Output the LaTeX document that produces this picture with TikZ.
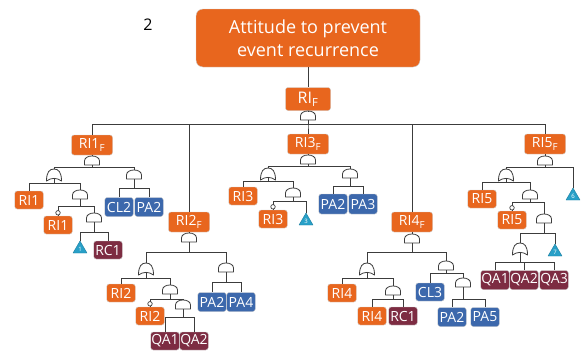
\documentclass[tikz,border=0pt]{standalone}
\usepackage{fontspec}
\setmainfont{Open Sans}
\usepackage{tikz}
\definecolor{evorange}{RGB}{232,102,30}
\definecolor{evblue}{RGB}{60,104,172}
\definecolor{evmaroon}{RGB}{125,44,66}
\definecolor{evteal}{RGB}{40,160,200}
\definecolor{evline}{RGB}{60,60,60}

\tikzset{
  wire/.style={draw=evline, line width=0.9pt},
  gateline/.style={draw=evline, line width=0.8pt, fill=white, line join=round},
  ev/.style={rounded corners=2.5pt, text=white, inner sep=0pt, minimum width=28.5pt,
    minimum height=18pt, font=\fontsize{14}{14}\selectfont, draw=black!20, line width=0.4pt},
  evF/.style={ev, minimum width=41pt, minimum height=20pt},
  ri/.style={fill=evorange},
  pa/.style={fill=evblue},
  qa/.style={fill=evmaroon},
  topbox/.style={ri, rounded corners=7pt, minimum width=224pt, minimum height=58pt,
    text=white, align=center, font=\fontsize{18}{23}\selectfont, draw=black!20, line width=0.4pt},
  dot/.style={circle, draw=evline, fill=white, line width=0.7pt, inner sep=0pt, minimum size=4.5pt},
  pics/andg/.style={code={
    \draw[gateline] (-7.5,9) -- (-7.5,5) .. controls (-7.5,-1.67) and (7.5,-1.67) .. (7.5,5) -- (7.5,9) -- cycle;
    \coordinate (-in) at (0,0);
    \coordinate (-out) at (0,9);
  }},
  pics/org/.style={code={
    \draw[gateline] (-7.5,12) .. controls (-7.5,3) and (-4.5,0) .. (0,0)
      .. controls (4.5,0) and (7.5,3) .. (7.5,12) .. controls (3,8.5) and (-3,8.5) .. cycle;
    \coordinate (-in) at (0,0);
    \coordinate (-out) at (0,9.4);
  }},
  pics/xfer/.style={code={
    \draw[fill=evteal, draw=evteal!80!black, line width=0.4pt, line join=round] (0,0) -- (7,12) -- (-7,12) -- cycle;
    \node[font=\fontsize{6}{6}\selectfont, text=white, inner sep=0pt] (-n) at (0,8.3) {#1};
    \coordinate (-in) at (0,0);
  }}
}

\begin{document}
\begin{tikzpicture}[x=1pt, y=-1pt]
  \useasboundingbox (0,0) rectangle (583,351);

  % top event
  \node[font=\fontsize{16}{16}\selectfont] (num) at (148,25) {2};
  \node[topbox] (top) at (308,38) {Attitude to prevent\\event recurrence};
  \node[evF, ri, minimum width=45pt, minimum height=23pt, font=\fontsize{16}{16}\selectfont] (rif) at (308,99) {RI\textsubscript{F}};
  \pic (g0) at (308,111) {andg};

  % branch RI1
  \node[evF, ri] (ri1f) at (92,145) {RI1\textsubscript{F}};
  \pic (g1) at (92,156) {andg};
  \pic (g11) at (54,169) {org};
  \pic (g12) at (134,170) {andg};
  \node[ev, ri] (ri1a) at (29,200) {RI1};
  \pic (g111) at (80,190) {andg};
  \node[ev, ri] (ri1b) at (58,225) {RI1};
  \pic (g1111) at (94,213) {andg};
  \pic (t1) at (80,241) {xfer=1};
  \node[ev, qa] (rc1a) at (108,250) {RC1};
  \node[ev, pa, minimum height=19pt] (cl2) at (119,207) {CL2};
  \node[ev, pa, minimum height=19pt] (pa2a) at (149,207) {PA2};

  % branch RI2
  \node[evF, ri] (ri2f) at (189,222) {RI2\textsubscript{F}};
  \pic (g2) at (189,233) {andg};
  \pic (g21) at (146,263) {org};
  \pic (g22) at (226,263) {andg};
  \node[ev, ri] (ri2a) at (121,293) {RI2};
  \pic (g211) at (170,285) {andg};
  \node[ev, ri] (ri2b) at (150,316) {RI2};
  \pic (g2111) at (183,300) {andg};
  \node[ev, qa] (qa1a) at (165,341) {QA1};
  \node[ev, qa] (qa2a) at (194,341) {QA2};
  \node[ev, pa, minimum height=19pt] (pa2b) at (212,302) {PA2};
  \node[ev, pa, minimum height=19pt] (pa4) at (241,302) {PA4};

  % branch RI3
  \node[evF, ri] (ri3f) at (308,144) {RI3\textsubscript{F}};
  \pic (g3) at (308,155) {andg};
  \pic (g31) at (268,168) {org};
  \pic (g32) at (350,169) {andg};
  \node[ev, ri] (ri3a) at (243,196) {RI3};
  \pic (g311) at (293,188) {andg};
  \node[ev, ri] (ri3b) at (273,219) {RI3};
  \pic (t3) at (306,213) {xfer=3};
  \node[ev, pa, minimum height=20pt] (pa2c) at (333,204) {PA2};
  \node[ev, pa, minimum height=20pt] (pa3) at (363,204) {PA3};

  % branch RI4
  \node[evF, ri] (ri4f) at (412,222) {RI4\textsubscript{F}};
  \pic (g4) at (412,234) {andg};
  \pic (g41) at (367,263) {org};
  \pic (g42) at (446,261) {andg};
  \node[ev, ri] (ri4a) at (342,293) {RI4};
  \pic (g411) at (393,286) {andg};
  \node[ev, ri] (ri4b) at (372,316) {RI4};
  \node[ev, qa] (rc1b) at (403,316) {RC1};
  \node[ev, pa] (cl3) at (430,292) {CL3};
  \pic (g421) at (463,278) {andg};
  \node[ev, pa, minimum height=19pt] (pa2d) at (452,317) {PA2};
  \node[ev, pa, minimum height=19pt] (pa5) at (485,317) {PA5};

  % branch RI5
  \node[evF, ri] (ri5f) at (545,144) {RI5\textsubscript{F}};
  \pic (g5) at (545,156) {andg};
  \pic (g51) at (506,169) {org};
  \pic (t6) at (573,188) {xfer=6};
  \node[ev, ri] (ri5a) at (482,199) {RI5};
  \pic (g511) at (530,190) {andg};
  \node[ev, ri] (ri5b) at (512,220) {RI5};
  \pic (g5111) at (544,214) {andg};
  \pic (g51111) at (520,243) {org};
  \pic (t7) at (555,244) {xfer=7};
  \node[ev, qa, minimum height=19pt] (qa1b) at (495,280) {QA1};
  \node[ev, qa, minimum height=19pt] (qa2b) at (524,280) {QA2};
  \node[ev, qa, minimum height=19pt] (qa3) at (554,280) {QA3};

  % connectors
  \draw[wire] (top.south) -- (rif.north);
  \draw[wire] (rif.south) -- (g0-in);
  \foreach \c in {ri1f.north, ri2f.north, ri3f.north, ri4f.north, ri5f.north}
    \draw[wire] (g0-out) -- ++(0,4) -| (\c);

  \draw[wire] (ri1f.south) -- (g1-in);
  \foreach \c in {g11-in, g12-in} \draw[wire] (g1-out) -- ++(0,2) -| (\c);
  \foreach \c in {ri1a.north, g111-in} \draw[wire] (g11-out) -- ++(0,4.6) -| (\c);
  \foreach \c in {ri1b.north, g1111-in} \draw[wire] (g111-out) -- ++(0,7) -| (\c);
  \foreach \c in {t1-in, rc1a.north} \draw[wire] (g1111-out) -- ++(0,10) -| (\c);
  \foreach \c in {cl2.north, pa2a.north} \draw[wire] (g12-out) -- ++(0,9) -| (\c);

  \draw[wire] (ri2f.south) -- (g2-in);
  \foreach \c in {g21-in, g22-in} \draw[wire] (g2-out) -- ++(0,10) -| (\c);
  \foreach \c in {ri2a.north, g211-in} \draw[wire] (g21-out) -- ++(0,5.6) -| (\c);
  \foreach \c in {ri2b.north, g2111-in} \draw[wire] (g211-out) -- ++(0,5) -| (\c);
  \foreach \c in {qa1a.north, qa2a.north} \draw[wire] (g2111-out) -- ++(0,8) -| (\c);
  \foreach \c in {pa2b.north, pa4.north} \draw[wire] (g22-out) -- ++(0,10) -| (\c);

  \draw[wire] (ri3f.south) -- (g3-in);
  \foreach \c in {g31-in, g32-in} \draw[wire] (g3-out) -- ++(0,2) -| (\c);
  \foreach \c in {ri3a.north, g311-in} \draw[wire] (g31-out) -- ++(0,3.6) -| (\c);
  \foreach \c in {ri3b.north, t3-in} \draw[wire] (g311-out) -- ++(0,4) -| (\c);
  \foreach \c in {pa2c.north, pa3.north} \draw[wire] (g32-out) -- ++(0,8) -| (\c);

  \draw[wire] (ri4f.south) -- (g4-in);
  \foreach \c in {g41-in, g42-in} \draw[wire] (g4-out) -- ++(0,9) -| (\c);
  \foreach \c in {ri4a.north, g411-in} \draw[wire] (g41-out) -- ++(0,5.6) -| (\c);
  \foreach \c in {ri4b.north, rc1b.north} \draw[wire] (g411-out) -- ++(0,4) -| (\c);
  \foreach \c in {cl3.north, g421-in} \draw[wire] (g42-out) -- ++(0,3) -| (\c);
  \foreach \c in {pa2d.north, pa5.north} \draw[wire] (g421-out) -- ++(0,12) -| (\c);

  \draw[wire] (ri5f.south) -- (g5-in);
  \foreach \c in {g51-in, t6-in} \draw[wire] (g5-out) -- ++(0,2) -| (\c);
  \foreach \c in {ri5a.north, g511-in} \draw[wire] (g51-out) -- ++(0,3.6) -| (\c);
  \foreach \c in {ri5b.north, g5111-in} \draw[wire] (g511-out) -- ++(0,3) -| (\c);
  \foreach \c in {g51111-in, t7-in} \draw[wire] (g5111-out) -- ++(0,10) -| (\c);
  \foreach \c in {qa1b.north, qa2b.north, qa3.north} \draw[wire] (g51111-out) -- ++(0,9.6) -| (\c);

  % conditions
  \node[dot] (c1) at ([yshift=3pt]ri1b.north) {};
  \node[dot] (c2) at ([yshift=3pt]ri2b.north) {};
  \node[dot] (c3) at ([yshift=3pt]ri3b.north) {};
  \node[dot] (c5) at ([yshift=3pt]ri5b.north) {};
\end{tikzpicture}
\end{document}
